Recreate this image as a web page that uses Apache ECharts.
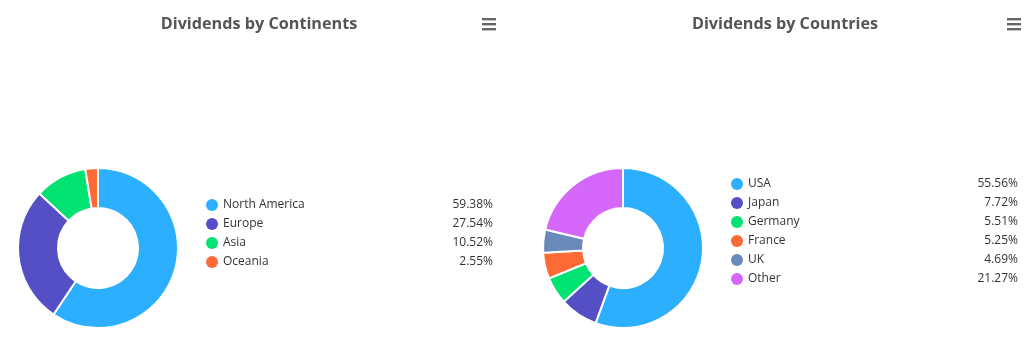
<!DOCTYPE html>
<html>
<head>
<meta charset="utf-8">
<script src="https://cdn.jsdelivr.net/npm/echarts@6/dist/echarts.min.js"></script>
<style>
  html, body { margin: 0; padding: 0; background: #fff; }
  #main { width: 1031px; height: 355px; }
</style>
</head>
<body>
<div id="main"></div>
<script>
// data
const continents = ['North America', 'Europe', 'Asia', 'Oceania'];
const continentShare = [59.38, 27.54, 10.52, 2.55];
const countries = ['USA', 'Japan', 'Germany', 'France', 'UK', 'Other'];
const countryShare = [55.56, 7.72, 5.51, 5.25, 4.69, 21.27];

const palette = ['#2caffe', '#544fc5', '#00e272', '#fe6a35', '#6b8abc', '#d568fb'];
const font = '"Open Sans", "Segoe UI", sans-serif';

const shareOf = {};
continents.forEach((n, i) => shareOf[n] = continentShare[i]);
countries.forEach((n, i) => shareOf[n] = countryShare[i]);

const chart = echarts.init(document.getElementById('main'));

function legendFor(names, left, top) {
  return {
    orient: 'vertical',
    left: left,
    top: top,
    padding: 0,
    icon: 'circle',
    itemWidth: 12,
    itemHeight: 12,
    itemGap: 7,
    selectedMode: false,
    itemStyle: { borderWidth: 0 },
    data: names,
    formatter: n => '{n|' + n + '}{v|' + shareOf[n].toFixed(2) + '%}',
    textStyle: {
      fontFamily: font,
      fontSize: 12,
      color: '#333333',
      rich: {
        n: { width: 230, fontFamily: font, fontSize: 12, color: '#333333', lineHeight: 14 },
        v: { width: 40, align: 'right', fontFamily: font, fontSize: 12, color: '#333333', lineHeight: 14 }
      }
    }
  };
}

function menuIcon(cx, cy) {
  const bars = [-5, 0, 5].map(d => ({
    type: 'rect',
    shape: { x: cx - 7, y: cy + d - 1, width: 14, height: 2.4 },
    style: { fill: '#666666' }
  }));
  return { type: 'group', children: bars };
}

function pieFor(names, values, cx) {
  return {
    type: 'pie',
    center: [cx, 248],
    radius: [40, 80],
    startAngle: 90,
    clockwise: true,
    avoidLabelOverlap: false,
    label: { show: false },
    labelLine: { show: false },
    emphasis: { scale: false },
    itemStyle: { borderColor: '#ffffff', borderWidth: 2 },
    data: names.map((n, i) => ({ name: n, value: values[i], itemStyle: { color: palette[i] } }))
  };
}

const option = {
  animation: false,
  title: [
    {
      text: 'Dividends by Continents',
      left: 254, top: 11, textAlign: 'center',
      textStyle: { fontFamily: font, fontSize: 16.2, fontWeight: 'bold', color: '#555555' }
    },
    {
      text: 'Dividends by Countries',
      left: 780, top: 11, textAlign: 'center',
      textStyle: { fontFamily: font, fontSize: 16.2, fontWeight: 'bold', color: '#555555' }
    }
  ],
  legend: [
    legendFor(continents, 206, 199),
    legendFor(countries, 731, 178)
  ],
  graphic: [menuIcon(489, 24), menuIcon(1014, 24)],
  series: [
    pieFor(continents, continentShare, 98),
    pieFor(countries, countryShare, 623)
  ]
};

option && chart.setOption(option);
</script>
</body>
</html>
